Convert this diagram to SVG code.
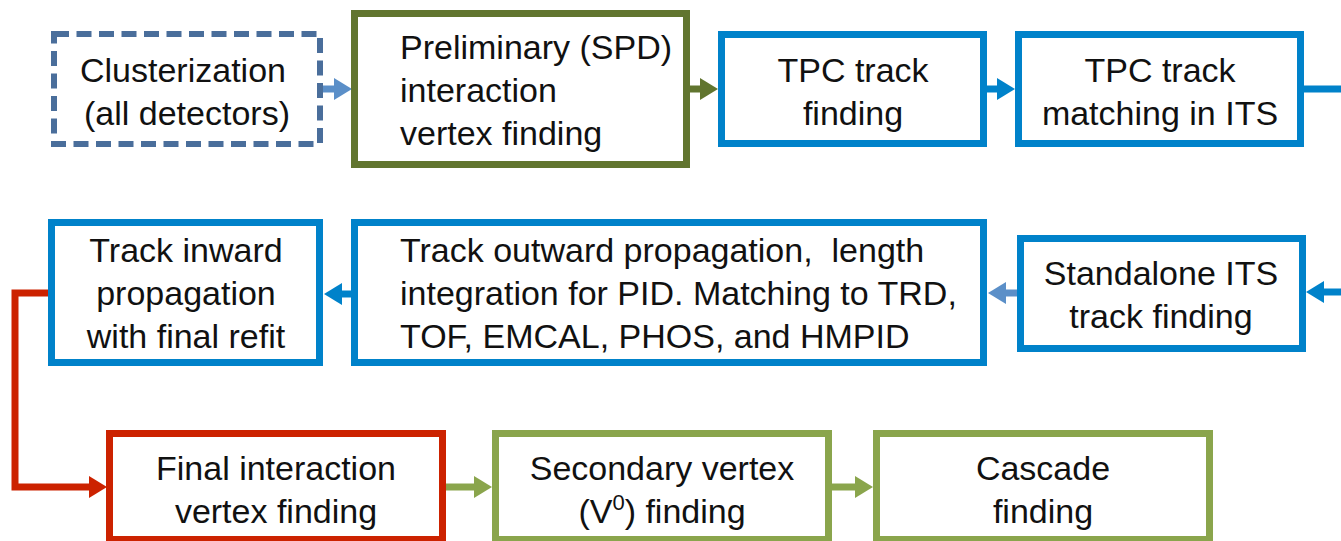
<svg xmlns="http://www.w3.org/2000/svg" width="1341" height="541" viewBox="0 0 1341 541">
  <style>
    .box { fill: #ffffff; stroke-width: 7; }
    .blue { stroke: #0082ca; }
    .olive { stroke: #61752f; }
    .red { stroke: #cc2200; }
    .green { stroke: #8aa54c; }
    .dashed { stroke: #4a6e9b; stroke-width: 6; stroke-dasharray: 15 7.5; }
    .lbl { font-family: "Liberation Sans", Arial, sans-serif; font-size: 34px; fill: #111111; }
    .c { text-anchor: middle; }
    .pre { white-space: pre; }
    .conn { fill: none; stroke-width: 7; stroke-linejoin: miter; }
  </style>
  <defs>
    <marker id="hBlue" markerUnits="userSpaceOnUse" markerWidth="20" markerHeight="24" refX="1" refY="11" orient="auto" viewBox="0 0 20 24">
      <path d="M0,0 L18,11 L0,22 z" fill="#0082ca"/>
    </marker>
    <marker id="hLight" markerUnits="userSpaceOnUse" markerWidth="20" markerHeight="24" refX="1" refY="11" orient="auto" viewBox="0 0 20 24">
      <path d="M0,0 L18,11 L0,22 z" fill="#5b8fc8"/>
    </marker>
    <marker id="hOlive" markerUnits="userSpaceOnUse" markerWidth="20" markerHeight="24" refX="1" refY="11" orient="auto" viewBox="0 0 20 24">
      <path d="M0,0 L18,11 L0,22 z" fill="#61752f"/>
    </marker>
    <marker id="hRed" markerUnits="userSpaceOnUse" markerWidth="20" markerHeight="24" refX="1" refY="11" orient="auto" viewBox="0 0 20 24">
      <path d="M0,0 L18,11 L0,22 z" fill="#cc2200"/>
    </marker>
    <marker id="hGreen" markerUnits="userSpaceOnUse" markerWidth="20" markerHeight="24" refX="1" refY="11" orient="auto" viewBox="0 0 20 24">
      <path d="M0,0 L18,11 L0,22 z" fill="#8aa54c"/>
    </marker>
  </defs>
  <rect width="1341" height="541" fill="#ffffff"/>

  <g id="connectors">
    <path class="conn" stroke="#5b8fc8" d="M323,89 L335,89" marker-end="url(#hLight)"/>
    <path class="conn" stroke="#61752f" d="M690,89 L701,89" marker-end="url(#hOlive)"/>
    <path class="conn" stroke="#0082ca" d="M987,89 L998,89" marker-end="url(#hBlue)"/>
    <path class="conn" stroke="#0082ca" d="M1304,89 L1341,89"/>
    <path class="conn" stroke="#0082ca" d="M1341,292 L1323,292" marker-end="url(#hBlue)"/>
    <path class="conn" stroke="#5b8fc8" d="M1017,293 L1005,293" marker-end="url(#hLight)"/>
    <path class="conn" stroke="#0082ca" d="M351,294 L341,294" marker-end="url(#hBlue)"/>
    <path class="conn" stroke="#cc2200" d="M48,293 L15,293 L15,487 L90,487" marker-end="url(#hRed)"/>
    <path class="conn" stroke="#8aa54c" d="M446,487 L475,487" marker-end="url(#hGreen)"/>
    <path class="conn" stroke="#8aa54c" d="M832,487 L856,487" marker-end="url(#hGreen)"/>
  </g>

  <g id="clusterization">
    <rect class="box dashed" x="54" y="34" width="266" height="110"/>
    <text class="lbl c" x="183" y="82">Clusterization</text>
    <text class="lbl c" x="187" y="125">(all detectors)</text>
  </g>

  <g id="preliminary-vertex">
    <rect class="box olive" x="354.5" y="13.5" width="332" height="151"/>
    <text class="lbl" x="400" y="59">Preliminary (SPD)</text>
    <text class="lbl" x="400" y="102">interaction</text>
    <text class="lbl" x="400" y="145">vertex finding</text>
  </g>

  <g id="tpc-track-finding">
    <rect class="box blue" x="721.5" y="34.5" width="262" height="109"/>
    <text class="lbl c" x="853" y="82">TPC track</text>
    <text class="lbl c" x="853" y="125">finding</text>
  </g>

  <g id="tpc-track-matching">
    <rect class="box blue" x="1018.5" y="34.5" width="282" height="109"/>
    <text class="lbl c" x="1160" y="82">TPC track</text>
    <text class="lbl c" x="1160" y="125">matching in ITS</text>
  </g>

  <g id="standalone-its">
    <rect class="box blue" x="1020.5" y="238.5" width="282" height="110"/>
    <text class="lbl c" x="1161" y="285">Standalone ITS</text>
    <text class="lbl c" x="1161" y="328">track finding</text>
  </g>

  <g id="track-outward">
    <rect class="box blue" x="354.5" y="222.5" width="629" height="140"/>
    <text class="lbl pre" x="400" y="262" xml:space="preserve">Track outward propagation,  length</text>
    <text class="lbl" x="400" y="305">integration for PID. Matching to TRD,</text>
    <text class="lbl" x="400" y="348">TOF, EMCAL, PHOS, and HMPID</text>
  </g>

  <g id="track-inward">
    <rect class="box blue" x="51.5" y="222.5" width="268" height="140"/>
    <text class="lbl c" x="186" y="262">Track inward</text>
    <text class="lbl c" x="186" y="305">propagation</text>
    <text class="lbl c" x="186" y="348">with final refit</text>
  </g>

  <g id="final-vertex">
    <rect class="box red" x="109.5" y="433.5" width="333" height="106"/>
    <text class="lbl c" x="276" y="480">Final interaction</text>
    <text class="lbl c" x="276" y="523">vertex finding</text>
  </g>

  <g id="secondary-vertex">
    <rect class="box green" x="495.5" y="433.5" width="333" height="106"/>
    <text class="lbl c" x="662" y="480">Secondary vertex</text>
    <text class="lbl c" x="662" y="523">(V<tspan font-size="22" dy="-13">0</tspan><tspan dy="13">) finding</tspan></text>
  </g>

  <g id="cascade">
    <rect class="box green" x="876.5" y="433.5" width="333" height="106"/>
    <text class="lbl c" x="1043" y="480">Cascade</text>
    <text class="lbl c" x="1043" y="523">finding</text>
  </g>
</svg>
